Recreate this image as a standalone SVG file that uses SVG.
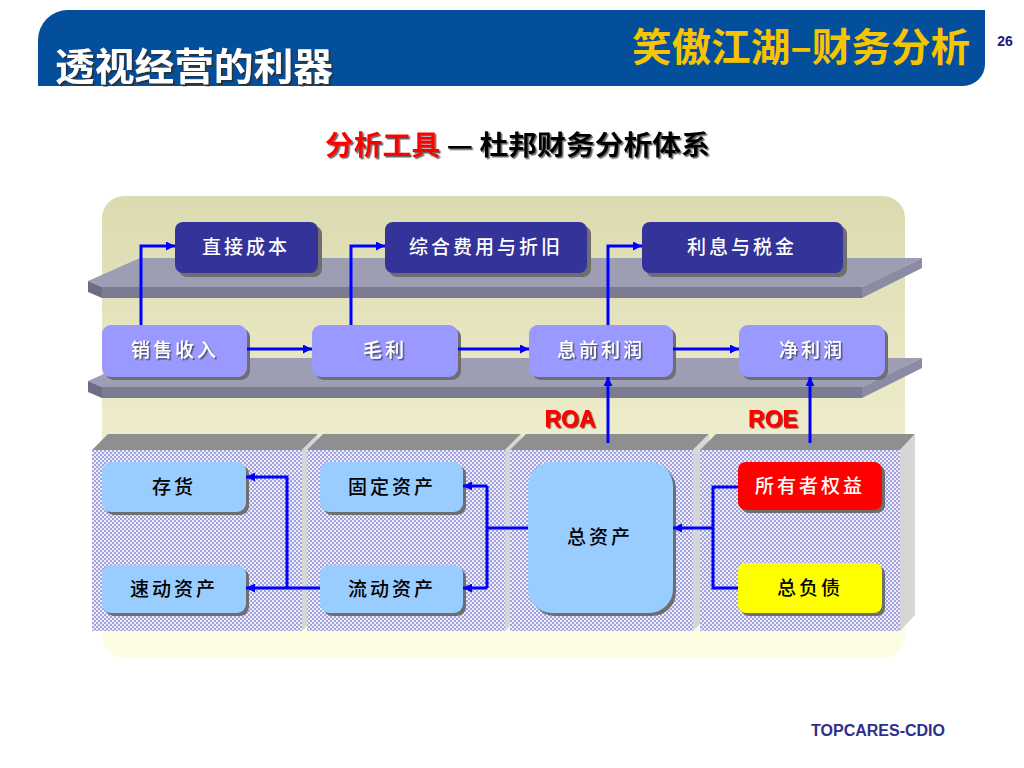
<svg xmlns="http://www.w3.org/2000/svg" width="1024" height="768" viewBox="0 0 1024 768">
<defs>
<style>
.cjk{font-family:"Noto Sans CJK SC","Liberation Sans",sans-serif}
.lat{font-family:"Liberation Sans","Noto Sans CJK SC",sans-serif}
.nt{font-size:19px;text-anchor:middle;letter-spacing:3px;font-weight:500}
.conn{fill:none;stroke:#0000ff;stroke-width:3}
.shadow{fill:#6e6e6e}
.navy{fill:#333399}
.lav{fill:#9999ff}
.sky{fill:#99ccff}
.stop{fill:#9d9db4}
.sfront{fill:#7b7b92}
.sside{fill:#8b8ba6}
.sleft{fill:#6c6c84}
.ptop{fill:#8f8f8f}
.pside{fill:#d6d6d6}
</style>
<linearGradient id="beige" x1="0" y1="0" x2="0" y2="1">
<stop offset="0" stop-color="#dcdab0"/>
<stop offset="1" stop-color="#fffee4"/>
</linearGradient>
<pattern id="hatch" width="4" height="4" patternUnits="userSpaceOnUse">
<rect width="4" height="4" fill="#a2a2dc"/>
<rect x="0" y="0" width="2" height="2" fill="#ececfa"/>
<rect x="2" y="2" width="2" height="2" fill="#ececfa"/>
</pattern>
<filter id="ts" x="-10%" y="-20%" width="130%" height="150%">
<feDropShadow dx="2" dy="2" stdDeviation="0.6" flood-color="#303030" flood-opacity="0.9"/>
</filter>
<filter id="ts2" x="-10%" y="-20%" width="130%" height="150%">
<feDropShadow dx="1.5" dy="1.5" stdDeviation="0.5" flood-color="#404040" flood-opacity="0.8"/>
</filter>
<filter id="tr" x="-10%" y="-20%" width="130%" height="150%">
<feDropShadow dx="1.5" dy="1.5" stdDeviation="0.5" flood-color="#800000" flood-opacity="0.8"/>
</filter>
<marker id="ah" viewBox="0 0 10 10" refX="10" refY="5" markerWidth="10" markerHeight="9" markerUnits="userSpaceOnUse" orient="auto">
<path d="M0,0 L10,5 L0,10 Z" fill="#0000ff"/>
</marker>
</defs>

<rect width="1024" height="768" fill="#ffffff"/>

<!-- header -->
<g id="header">
<path d="M38,86 V40 A30,30 0 0 1 68,10 H985 V64 A22,22 0 0 1 963,86 Z" fill="#034f9b"/>
<text x="55" y="80" class="cjk" font-size="38" font-weight="bold" fill="#ffffff" filter="url(#ts)" textLength="278" lengthAdjust="spacingAndGlyphs">透视经营的利器</text>
<text x="632" y="61" class="cjk" font-size="39" font-weight="bold" fill="#f6c400" textLength="338" lengthAdjust="spacingAndGlyphs">笑傲江湖–财务分析</text>
<text x="1005" y="46" class="lat" font-size="14" font-weight="bold" fill="#1a1a80" text-anchor="middle">26</text>
</g>

<g id="subtitle">
<text x="325" y="155" class="cjk" font-size="27" font-weight="bold" filter="url(#ts2)" textLength="385" lengthAdjust="spacingAndGlyphs"><tspan fill="#ff0000">分析工具</tspan><tspan fill="#000000"> — 杜邦财务分析体系</tspan></text>
</g>

<!-- container -->
<rect x="102" y="196" width="803" height="462" rx="22" fill="url(#beige)"/>

<!-- shelves -->
<g id="shelf-top">
<polygon class="stop" points="88,281 140,258 922,258 862,287 102,287"/>
<polygon class="sside" points="862,287 922,258 922,268 862,298"/>
<rect class="sfront" x="102" y="287" width="760" height="11"/>
<polygon class="sleft" points="88,281 102,287 102,298 88,292"/>
</g>
<g id="shelf-bottom">
<polygon class="stop" points="88,381 140,358 922,358 862,387 102,387"/>
<polygon class="sside" points="862,387 922,358 922,368 862,398"/>
<rect class="sfront" x="102" y="387" width="760" height="11"/>
<polygon class="sleft" points="88,381 102,387 102,398 88,392"/>
</g>

<!-- panels -->
<g id="panel1">
<polygon class="ptop" points="92,450 108,434 318,434 302,450"/>
<polygon class="pside" points="302,450 318,434 318,615 302,631"/>
<rect x="92" y="450" width="210" height="181" fill="url(#hatch)"/>
</g>
<g id="panel2">
<polygon class="ptop" points="307,450 323,434 521,434 505,450"/>
<polygon class="pside" points="505,450 521,434 521,615 505,631"/>
<rect x="307" y="450" width="198" height="181" fill="url(#hatch)"/>
</g>
<g id="panel3">
<polygon class="ptop" points="510,450 526,434 709,434 693,450"/>
<polygon class="pside" points="693,450 709,434 709,615 693,631"/>
<rect x="510" y="450" width="183" height="181" fill="url(#hatch)"/>
</g>
<g id="panel4">
<polygon class="ptop" points="700,450 716,434 915,434 900,450"/>
<polygon class="pside" points="900,450 915,434 915,615 900,631"/>
<rect x="700" y="450" width="200" height="181" fill="url(#hatch)"/>
</g>

<!-- top row nodes -->
<g id="n-zhijiechengben">
<rect class="shadow" x="179" y="226" width="143" height="51" rx="8"/>
<rect class="navy" x="175" y="222" width="143" height="51" rx="8"/>
<text x="246" y="254" class="cjk nt" fill="#ffffff">直接成本</text>
</g>
<g id="n-zonghefeiyong">
<rect class="shadow" x="389" y="226" width="202" height="51" rx="8"/>
<rect class="navy" x="385" y="222" width="202" height="51" rx="8"/>
<text x="486" y="254" class="cjk nt" fill="#ffffff">综合费用与折旧</text>
</g>
<g id="n-lixiyushuijin">
<rect class="shadow" x="646" y="226" width="201" height="51" rx="8"/>
<rect class="navy" x="642" y="222" width="201" height="51" rx="8"/>
<text x="742" y="254" class="cjk nt" fill="#ffffff">利息与税金</text>
</g>

<!-- second row nodes -->
<g id="n-xiaoshoushouru">
<rect class="shadow" x="105" y="328" width="145" height="52" rx="9"/>
<rect class="lav" x="102" y="325" width="145" height="52" rx="9"/>
<text x="175" y="357" class="cjk nt" fill="#ffffff" filter="url(#ts2)">销售收入</text>
</g>
<g id="n-maoli">
<rect class="shadow" x="315" y="328" width="146" height="52" rx="9"/>
<rect class="lav" x="312" y="325" width="146" height="52" rx="9"/>
<text x="385" y="357" class="cjk nt" fill="#ffffff" filter="url(#ts2)">毛利</text>
</g>
<g id="n-xiqianlirun">
<rect class="shadow" x="532" y="328" width="144" height="52" rx="9"/>
<rect class="lav" x="529" y="325" width="144" height="52" rx="9"/>
<text x="601" y="357" class="cjk nt" fill="#ffffff" filter="url(#ts2)">息前利润</text>
</g>
<g id="n-jinglirun">
<rect class="shadow" x="742" y="328" width="146" height="52" rx="9"/>
<rect class="lav" x="739" y="325" width="146" height="52" rx="9"/>
<text x="812" y="357" class="cjk nt" fill="#ffffff" filter="url(#ts2)">净利润</text>
</g>

<!-- bottom nodes -->
<g id="n-cunhuo">
<rect class="shadow" x="105" y="465" width="144" height="50" rx="9"/>
<rect class="sky" x="102" y="462" width="144" height="50" rx="9"/>
<text x="174" y="494" class="cjk nt" fill="#000000">存货</text>
</g>
<g id="n-sudongzichan">
<rect class="shadow" x="105" y="568" width="144" height="48" rx="9"/>
<rect class="sky" x="102" y="565" width="144" height="48" rx="9"/>
<text x="174" y="596" class="cjk nt" fill="#000000">速动资产</text>
</g>
<g id="n-gudingzichan">
<rect class="shadow" x="323" y="465" width="143" height="50" rx="9"/>
<rect class="sky" x="320" y="462" width="143" height="50" rx="9"/>
<text x="392" y="494" class="cjk nt" fill="#000000">固定资产</text>
</g>
<g id="n-liudongzichan">
<rect class="shadow" x="323" y="568" width="143" height="48" rx="9"/>
<rect class="sky" x="320" y="565" width="143" height="48" rx="9"/>
<text x="392" y="596" class="cjk nt" fill="#000000">流动资产</text>
</g>
<g id="n-zongzichan">
<rect class="shadow" x="531" y="465" width="145" height="151" rx="24"/>
<rect class="sky" x="528" y="462" width="145" height="151" rx="24"/>
<text x="600" y="544" class="cjk nt" fill="#000000">总资产</text>
</g>
<g id="n-suoyouzhequanyi">
<rect class="shadow" x="741" y="465" width="144" height="48" rx="8"/>
<rect x="738" y="462" width="144" height="48" rx="8" fill="#ff0000"/>
<text x="810" y="493" class="cjk nt" fill="#ffffff">所有者权益</text>
</g>
<g id="n-zongfuzhai">
<rect class="shadow" x="741" y="566" width="144" height="50" rx="8"/>
<rect x="738" y="563" width="144" height="50" rx="8" fill="#ffff00"/>
<text x="810" y="595" class="cjk nt" fill="#000000">总负债</text>
</g>

<!-- labels -->
<g id="labels">
<text x="570" y="427" class="lat" font-size="23" font-weight="bold" fill="#ff0000" text-anchor="middle" filter="url(#tr)">ROA</text>
<text x="773" y="427" class="lat" font-size="23" font-weight="bold" fill="#ff0000" text-anchor="middle" filter="url(#tr)">ROE</text>
</g>

<!-- connectors -->
<g id="connectors">
<path class="conn" d="M141,325 V246 H175" marker-end="url(#ah)"/>
<path class="conn" d="M351,325 V246 H385" marker-end="url(#ah)"/>
<path class="conn" d="M608,325 V246 H642" marker-end="url(#ah)"/>
<path class="conn" d="M247,349 H312" marker-end="url(#ah)"/>
<path class="conn" d="M458,349 H529" marker-end="url(#ah)"/>
<path class="conn" d="M673,349 H739" marker-end="url(#ah)"/>
<path class="conn" d="M608,443 V377" marker-end="url(#ah)"/>
<path class="conn" d="M810,443 V377" marker-end="url(#ah)"/>
<path class="conn" d="M738,487 H713 V588 H738"/>
<path class="conn" d="M713,528 H673" marker-end="url(#ah)"/>
<path class="conn" d="M528,528 H487"/>
<path class="conn" d="M487,486 V588"/>
<path class="conn" d="M487,486 H463" marker-end="url(#ah)"/>
<path class="conn" d="M487,588 H463" marker-end="url(#ah)"/>
<path class="conn" d="M320,588 H246" marker-end="url(#ah)"/>
<path class="conn" d="M287,588 V477 H246" marker-end="url(#ah)"/>
</g>

<g id="footer">
<text x="878" y="736" class="lat" font-size="16" font-weight="bold" fill="#2e2e8c" text-anchor="middle">TOPCARES-CDIO</text>
</g>
</svg>
